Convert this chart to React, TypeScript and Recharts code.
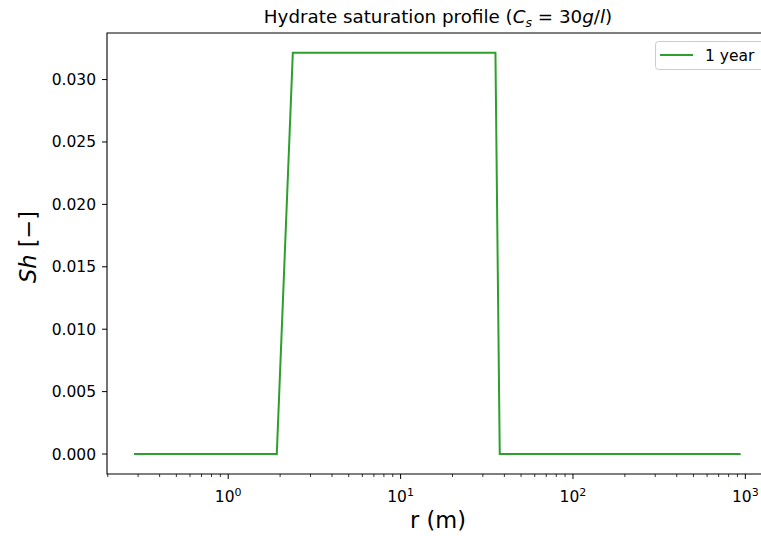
import { LineChart, Line, XAxis, YAxis, ReferenceArea } from "recharts";

// radius (m) and hydrate saturation for the "1 year" profile
const radius = [0.284, 1.913, 2.37, 35.5, 37.6, 939];
const saturation = [0, 0, 0.03215, 0.03215, 0, 0];
const seriesName = "1 year";

const majorTicks = [1, 10, 100, 1000];
const minorTicks = [
  0.2, 0.3, 0.4, 0.5, 0.6, 0.7, 0.8, 0.9,
  2, 3, 4, 5, 6, 7, 8, 9,
  20, 30, 40, 50, 60, 70, 80, 90,
  200, 300, 400, 500, 600, 700, 800, 900,
];
const yTicks = [0, 0.005, 0.01, 0.015, 0.02, 0.025, 0.03];

const xDomain = [0.198, 1409];
const yDomain = [-0.0016, 0.03373];

const data = radius.map((r, i) => ({ r, sh: saturation[i] }));

const FONT = "DejaVu Sans";
const GREEN = "#2ca02c";

function LogTick(props: any) {
  const { x, y, payload } = props;
  const v = payload.value;
  const major = majorTicks.includes(v);
  if (!major) {
    return <line x1={x} x2={x} y1={y} y2={y + 3} stroke="#000" strokeWidth={0.8} />;
  }
  const exp = Math.round(Math.log10(v));
  return (
    <g>
      <line x1={x} x2={x} y1={y} y2={y + 5} stroke="#000" strokeWidth={1} />
      <text x={x} y={y + 28} textAnchor="middle" fontFamily={FONT} fontSize={15.5} fill="#000">
        10
        <tspan dy={-6.5} fontSize={11}>
          {exp}
        </tspan>
      </text>
    </g>
  );
}

export default function App() {
  return (
    <div
      style={{
        position: "absolute",
        left: 0,
        top: 0,
        width: 761,
        height: 536,
        overflow: "hidden",
        background: "#fff",
      }}
    >
      <LineChart
        width={800}
        height={536}
        data={data}
        margin={{ top: 33, right: 29, bottom: 0, left: 0 }}
      >
        <XAxis
          dataKey="r"
          type="number"
          scale="log"
          domain={xDomain}
          allowDataOverflow
          ticks={[...minorTicks, ...majorTicks]}
          interval={0}
          height={62}
          tickSize={0}
          tickMargin={0}
          tickLine={false}
          axisLine={false}
          tick={<LogTick />}
        />
        <YAxis
          type="number"
          domain={yDomain}
          allowDataOverflow
          ticks={yTicks}
          interval={0}
          width={107}
          tickSize={5}
          tickMargin={6}
          axisLine={false}
          tickLine={{ stroke: "#000" }}
          tickFormatter={(v: number) => v.toFixed(3)}
          tick={{ fill: "#000", fontSize: 15.5, fontFamily: FONT }}
        />
        <Line
          type="linear"
          dataKey="sh"
          name={seriesName}
          stroke={GREEN}
          strokeWidth={2}
          dot={false}
          isAnimationActive={false}
        />
        <ReferenceArea
          x1={xDomain[0]}
          x2={xDomain[1]}
          y1={yDomain[0]}
          y2={yDomain[1]}
          fill="none"
          stroke="#000"
          strokeWidth={1.1}
          ifOverflow="visible"
        />
      </LineChart>

      <svg
        width={761}
        height={536}
        style={{ position: "absolute", left: 0, top: 0, pointerEvents: "none" }}
        fontFamily={FONT}
      >
        <text x={438} y={23} textAnchor="middle" fontSize={18.3} fill="#000">
          Hydrate saturation profile (
          <tspan fontStyle="italic">C</tspan>
          <tspan fontStyle="italic" fontSize={12.5} dy={4}>s</tspan>
          <tspan dy={-4}> = 30</tspan>
          <tspan fontStyle="italic">g</tspan>/
          <tspan fontStyle="italic">l</tspan>)
        </text>
        <text x={438} y={528} textAnchor="middle" fontSize={22.5} fill="#000">
          r (m)
        </text>
        <text
          transform="translate(36,247) rotate(-90)"
          textAnchor="middle"
          fontSize={22.5}
          fill="#000"
        >
          <tspan fontStyle="italic">Sh</tspan> [−]
        </text>
        <rect x={655.5} y={41.5} width={130} height={28} rx={3} fill="#fff" fillOpacity={0.8} stroke="#cccccc" />
        <line x1={660} x2={693} y1={55} y2={55} stroke={GREEN} strokeWidth={2} />
        <text x={705} y={60.5} fontSize={15.5} fill="#000">
          {seriesName}
        </text>
      </svg>
    </div>
  );
}
